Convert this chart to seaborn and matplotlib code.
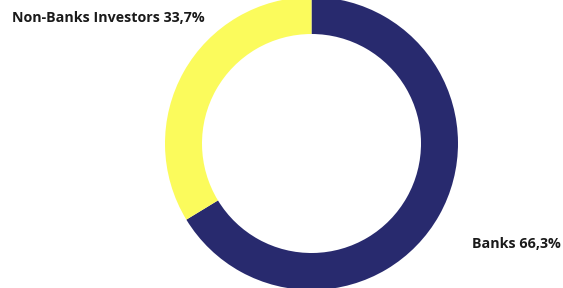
import matplotlib
matplotlib.use("Agg")
import matplotlib.pyplot as plt
import seaborn as sns

# ============ Data ============
labels = ["Banks", "Non-Banks Investors"]
shares = [66.3, 33.7]
colors = ["#282a6e", "#fbfb5c"]

sns.set_theme(style="white")
plt.rcParams["font.family"] = ["Open Sans", "DejaVu Sans"]

fig = plt.figure(figsize=(5.63, 2.88), dpi=100)
ax = fig.add_axes([0, 0, 1, 1])

ax.pie(
    shares,
    colors=colors,
    startangle=90,
    counterclock=False,
    center=(311.5, 144.5),
    radius=146.5,
    wedgeprops={"width": 37, "edgecolor": "none"},
    frame=True,
)
ax.set_xlim(0, 563)
ax.set_ylim(0, 288)
ax.set_aspect("equal")
ax.axis("off")

def fmt(v):
    return f"{v:.1f}".replace(".", ",") + "%"

ax.text(12, 270, f"{labels[1]} {fmt(shares[1])}", fontsize=10.3, fontweight="bold",
        color="#1a1a1a", ha="left", va="center")
ax.text(472, 44, f"{labels[0]} {fmt(shares[0])}", fontsize=10.3, fontweight="bold",
        color="#1a1a1a", ha="left", va="center")

fig.savefig("out.png", dpi=100, facecolor="white")
